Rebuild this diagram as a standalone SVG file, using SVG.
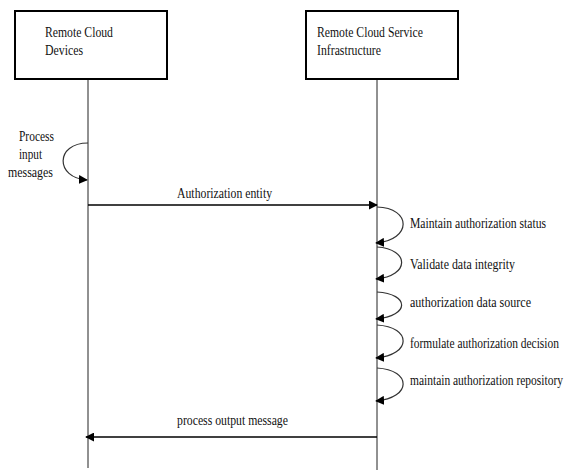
<svg xmlns="http://www.w3.org/2000/svg" width="566" height="473" viewBox="0 0 566 473">
<defs>
<marker id="ah" viewBox="0 0 10 10" refX="9" refY="5" markerWidth="9" markerHeight="9" markerUnits="userSpaceOnUse" orient="auto">
<path d="M0,0 L10,5 L0,10 Z" fill="#000"/>
</marker>
</defs>
<style>
.box{fill:#fff;stroke:#000;stroke-width:2}
.life{stroke:#222;stroke-width:1;fill:none}
.msg{stroke:#000;stroke-width:1.3;fill:none;marker-end:url(#ah)}
.loop{stroke:#333;stroke-width:1.2;fill:none;marker-end:url(#ah)}
.t{font-family:'Liberation Serif','Times New Roman',serif;font-size:14px;fill:#111}
</style>
<rect width="566" height="473" fill="#fff"/>
<g id="lifelines">
<line class="life" x1="88" y1="79" x2="88" y2="468"/>
<line class="life" x1="377" y1="79" x2="377" y2="470"/>
</g>
<g id="node-devices">
<rect class="box" x="15" y="11" width="152" height="68"/>
<text class="t" transform="translate(45,37) scale(0.83,1)" textLength="81.9" lengthAdjust="spacingAndGlyphs">Remote Cloud</text>
<text class="t" transform="translate(45,55) scale(0.83,1)" textLength="45.8" lengthAdjust="spacingAndGlyphs">Devices</text>
</g>
<g id="node-infra">
<rect class="box" x="306" y="11" width="152" height="68"/>
<text class="t" transform="translate(317,37) scale(0.83,1)" textLength="127.7" lengthAdjust="spacingAndGlyphs">Remote Cloud Service</text>
<text class="t" transform="translate(317,55) scale(0.83,1)" textLength="77.1" lengthAdjust="spacingAndGlyphs">Infrastructure</text>
</g>
<g id="connectors">
<path class="loop" d="M88,143 C55,143 55,178 87,180"/>
<line class="msg" x1="88" y1="205" x2="377" y2="205"/>
<path class="loop" d="M377,207 C412,208 412,240 376,243"/>
<path class="loop" d="M377,247 C410,249 410,276 376,279"/>
<path class="loop" d="M377,292 C410,294 410,316 376,319"/>
<path class="loop" d="M377,325 C412,327 412,355 376,358"/>
<path class="loop" d="M377,368 C412,370 412,398 376,401"/>
<line class="msg" x1="377" y1="437" x2="86" y2="437"/>
</g>
<g id="labels">
<text class="t" transform="translate(19,141) scale(0.83,1)" textLength="42.2" lengthAdjust="spacingAndGlyphs">Process</text>
<text class="t" transform="translate(19,159) scale(0.83,1)" textLength="27.7" lengthAdjust="spacingAndGlyphs">input</text>
<text class="t" transform="translate(8,177) scale(0.83,1)" textLength="54.2" lengthAdjust="spacingAndGlyphs">messages</text>
<text class="t" transform="translate(177,198) scale(0.83,1)" textLength="114.5" lengthAdjust="spacingAndGlyphs">Authorization entity</text>
<text class="t" transform="translate(410,228) scale(0.83,1)" textLength="163.9" lengthAdjust="spacingAndGlyphs">Maintain authorization status</text>
<text class="t" transform="translate(410,269) scale(0.83,1)" textLength="126.5" lengthAdjust="spacingAndGlyphs">Validate data integrity</text>
<text class="t" transform="translate(410,307) scale(0.83,1)" textLength="145.8" lengthAdjust="spacingAndGlyphs">authorization data source</text>
<text class="t" transform="translate(410,348) scale(0.83,1)" textLength="179.5" lengthAdjust="spacingAndGlyphs">formulate authorization decision</text>
<text class="t" transform="translate(410,385) scale(0.83,1)" textLength="184.3" lengthAdjust="spacingAndGlyphs">maintain authorization repository</text>
<text class="t" transform="translate(177,425) scale(0.83,1)" textLength="133.7" lengthAdjust="spacingAndGlyphs">process output message</text>
</g>
</svg>
